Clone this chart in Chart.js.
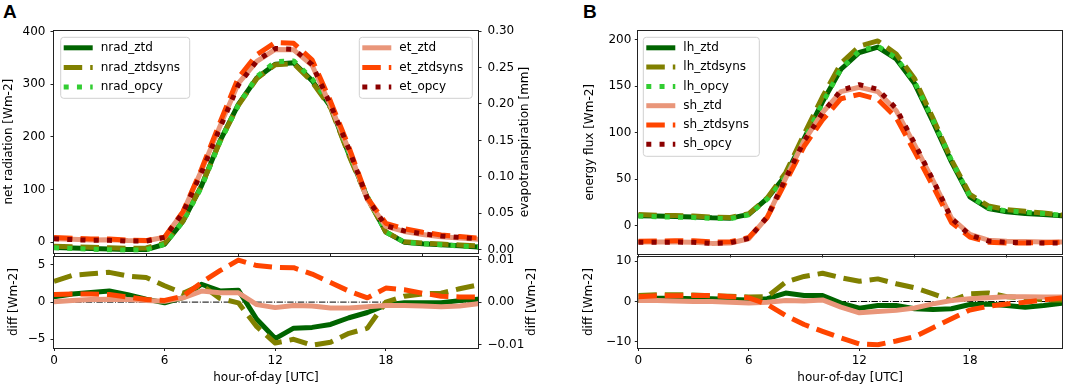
<!DOCTYPE html>
<html><head><meta charset="utf-8">
<script src="https://cdn.jsdelivr.net/npm/chart.js@4.4.1/dist/chart.umd.min.js"></script>
<style>
html,body{margin:0;padding:0;background:#fff;}
body{width:1065px;height:388px;position:relative;overflow:hidden;font-family:'DejaVu Sans',sans-serif;}
canvas{position:absolute;}
.lbl{position:absolute;font:bold 19px 'Liberation Sans',Arial,sans-serif;line-height:19px;color:#000;}
.rt{position:absolute;font:12px 'DejaVu Sans',sans-serif;white-space:nowrap;transform:translate(-50%,-50%) rotate(-90deg);color:#000;}
</style></head><body>
<div class="lbl" style="left:3px;top:2px">A</div>
<div class="lbl" style="left:583px;top:2px">B</div>
<canvas id="aTop" width="540" height="266" style="left:0;top:0;width:540px;height:266px"></canvas>
<canvas id="aBot" width="540" height="148" style="left:0;top:240px;width:540px;height:148px"></canvas>
<canvas id="bTop" width="485" height="266" style="left:580px;top:0;width:485px;height:266px"></canvas>
<canvas id="bBot" width="485" height="148" style="left:580px;top:240px;width:485px;height:148px"></canvas>
<div class="rt" style="left:524px;top:142px">evapotranspiration [mm]</div>
<div class="rt" style="left:531px;top:302px">diff [Wm-2]</div>
<script>
// ---------------- data ----------------
const hours = [0,1,2,3,4,5,6,7,8,9,10,11,12,13,14,15,16,17,18,19,20,21,22,23];
const xTicksTop = [0,5,10,15,20];
const xTicksBottom = [0,6,12,18];
const yTicksNrad = [0,100,200,300,400];
const yTicksEt = [0,0.05,0.10,0.15,0.20,0.25,0.30];
const yTicksDiffNrad = [-5,0,5];
const yTicksDiffEt = [-0.01,0,0.01];
const yTicksFlux = [0,50,100,150,200];
const yTicksDiffFlux = [-10,0,10];
const zeroLine = [0,0];

// Panel A top (net radiation, left axis)
const nrad_ztd     = [-10,-11,-12,-13,-14,-14,-4,40,107,192,262,312,338,341,307,258,167,85,19,0,-3,-5,-7,-9];
const nrad_ztdsyns = [-7.9,-8.5,-9.5,-10.5,-11.5,-11.1,-1.7,40.6,106.9,191.0,260.3,311.0,337.4,339.5,304.6,255.6,164.9,82.9,19.4,0.9,-1.8,-3.7,-5.4,-7.1];
const nrad_opcy    = [-10.7,-12.1,-13.3,-14.5,-15.0,-14.4,-3.9,39.4,104.6,190.5,260.4,314.3,342.9,344.5,310.4,261.0,169.1,86.4,19.4,0.1,-2.9,-4.9,-7.2,-9.4];
// Panel A top (evapotranspiration, right axis)
const et_ztd     = [0.0151,0.0144,0.0136,0.0137,0.0126,0.0124,0.0172,0.0520,0.1086,0.1692,0.2282,0.2584,0.2747,0.2742,0.2531,0.1976,0.1366,0.0689,0.0322,0.0252,0.0211,0.0179,0.0161,0.0146];
const et_ztdsyns = [0.0168,0.0159,0.0149,0.0148,0.0132,0.0126,0.0174,0.0524,0.1106,0.1744,0.2359,0.2676,0.2842,0.2831,0.2606,0.2036,0.1406,0.0710,0.0363,0.0289,0.0241,0.0204,0.0182,0.0162];
const et_opcy    = [0.015,0.014,0.013,0.013,0.012,0.012,0.017,0.051,0.106,0.167,0.226,0.259,0.276,0.275,0.254,0.199,0.138,0.070,0.033,0.026,0.022,0.019,0.017,0.015];
// Panel A bottom (differences)
const diff_nrad_ztd     = [0.7,1.1,1.3,1.5,1.0,0.4,-0.1,0.6,2.4,1.5,1.6,-2.3,-4.9,-3.5,-3.4,-3.0,-2.1,-1.4,-0.4,-0.1,-0.1,-0.1,0.2,0.4];
const diff_nrad_ztdsyns = [2.8,3.6,3.8,4.0,3.5,3.3,2.2,1.2,2.3,0.5,-0.1,-3.3,-5.5,-5.0,-5.8,-5.4,-4.2,-3.5,0.0,0.8,1.1,1.2,1.8,2.3];
const diff_et_ztd       = [0.0001,0.0004,0.0006,0.0007,0.0006,0.0004,0.0002,0.0010,0.0026,0.0022,0.0022,-0.0006,-0.0013,-0.0008,-0.0009,-0.0014,-0.0014,-0.0011,-0.0008,-0.0008,-0.0009,-0.0011,-0.0009,-0.0004];
const diff_et_ztdsyns   = [0.0018,0.0019,0.0019,0.0018,0.0012,0.0006,0.0004,0.0014,0.0046,0.0074,0.0099,0.0086,0.0082,0.0081,0.0066,0.0046,0.0026,0.0010,0.0033,0.0029,0.0021,0.0014,0.0012,0.0012];

// Panel B top (energy fluxes)
const lh_ztd     = [10.7,10.4,10.0,9.5,8.6,8.2,12.2,29.3,54.3,93.6,133,168,186,191.8,179,152.6,111.4,68.6,31,18.6,15,13.2,12.2,10.7];
const lh_ztdsyns = [12.0,11.3,10.9,10.4,9.3,9.0,12.9,29.8,57.0,98.3,138.5,174.3,192.7,198.4,184.4,157.8,115.3,70.7,33.7,21.3,17.2,15.5,13.6,11.5];
const lh_opcy    = [10.5,9.6,9.2,8.8,7.9,7.7,11.8,28.6,52.2,92.1,131.5,168.4,187.7,192.8,180.0,154.4,113.4,70.4,31.8,19.2,16.0,14.6,13.2,11.1];
const sh_ztd     = [-17.55,-17.55,-17.4,-17.7,-18.9,-18.5,-13.9,9.4,51.05,91.1,121.4,144.0,148.7,144.0,123.6,86.7,48.4,8.15,-9.3,-15.5,-16.6,-17.0,-17.5,-17.5];
const sh_ztdsyns = [-16.6,-16.4,-16.1,-16.2,-17.4,-17.1,-12.6,8.9,47.3,85.3,113.6,136.4,141.0,135.8,116.0,79.6,42.5,3.6,-12.1,-17.6,-18.4,-18.4,-18.2,-17.7];
const sh_opcy    = [-17.8,-17.8,-17.5,-17.7,-18.9,-18.3,-13.5,9.6,50.8,91.0,121.0,145.4,151.5,146.5,125.8,88.3,49.0,7.9,-10.0,-16.4,-17.8,-18.2,-18.6,-18.6];
// Panel B bottom (differences)
const diff_lh_ztd     = [0.25,0.8,0.8,0.7,0.7,0.5,0.4,0.7,2.1,1.5,1.5,-0.4,-1.65,-1.0,-1.0,-1.8,-2.0,-1.8,-0.75,-0.6,-1.0,-1.4,-1.0,-0.4];
const diff_lh_ztdsyns = [1.5,1.7,1.7,1.6,1.4,1.3,1.1,1.2,4.8,6.2,7.0,5.9,5.0,5.6,4.4,3.4,1.9,0.25,1.9,2.1,1.2,0.9,0.4,0.4];
const diff_sh_ztd     = [0.25,0.25,0.1,0,0,-0.2,-0.4,-0.2,0.25,0.1,0.4,-1.4,-2.8,-2.5,-2.2,-1.6,-0.6,0.25,0.7,0.9,1.2,1.2,1.1,1.1];
const diff_sh_ztdsyns = [1.2,1.4,1.4,1.5,1.5,1.2,0.9,-0.7,-3.5,-5.7,-7.4,-9.0,-10.5,-10.7,-9.8,-8.7,-6.5,-4.3,-2.1,-1.2,-0.6,-0.2,0.4,0.9];

// ---------------- styling helpers ----------------
const FONT = {family: "'DejaVu Sans', sans-serif", size: 12};
const C = {dg:'#006400', ol:'#808000', lg:'#32cd32', sa:'#e9967a', or:'#ff4500', dr:'#8b0000'};
const DASH = {solid: [], dashed: [18.5, 8], dotted: [5, 8.25], dashdot: [6.4, 1.6, 1, 1.6]};

function lineDs(label, arr, color, style, width, axis, order, xs) {
  const xv = xs || hours;
  return {
    label: label,
    data: arr.map((v, i) => ({x: xv[i], y: v})),
    borderColor: color, backgroundColor: color, borderWidth: width,
    borderDash: DASH[style], borderCapStyle: style === 'solid' ? 'round' : 'butt',
    borderJoinStyle: 'round', pointRadius: 0, pointHoverRadius: 0, tension: 0,
    fill: false, yAxisID: axis, order: order, clip: 0
  };
}
const zeroDs = (axis) => lineDs('zero', zeroLine, '#000', 'dashdot', 1, axis, 100, [hours[0], hours[hours.length - 1]]);

const minus = s => s.replace('-', '\u2212');
const fmtInt = v => minus(String(Math.round(v)));
const fmt2 = v => minus((Math.abs(v) < 1e-12 ? 0 : v).toFixed(2));

function gridOpts() {
  return {drawOnChartArea: false, drawTicks: true, tickLength: 3.5, color: '#222', tickColor: '#222', lineWidth: 1};
}
function yAxis(pos, min, max, ticksArr, fmt, width, pad, title, titlePad) {
  return {
    type: 'linear', position: pos, min: min, max: max,
    afterBuildTicks: s => { s.ticks = ticksArr.map(v => ({value: v})); },
    ticks: {callback: v => fmt(v), font: FONT, color: '#000', padding: pad, autoSkip: false},
    grid: gridOpts(), border: {display: false},
    title: title ? {display: true, text: title, font: FONT, color: '#000', padding: {top: titlePad, bottom: 0}} : {display: false},
    afterFit: s => { s.width = width; }
  };
}
function xAxis(ticksArr, labels, height) {
  return {
    type: 'linear', position: 'bottom', min: 0, max: 23,
    afterBuildTicks: s => { s.ticks = ticksArr.map(v => ({value: v})); },
    ticks: {display: labels, callback: v => fmtInt(v), font: FONT, color: '#000', padding: 2.5, autoSkip: false, maxRotation: 0},
    grid: gridOpts(), border: {display: false},
    title: labels ? {display: true, text: 'hour-of-day [UTC]', font: FONT, color: '#000', padding: {top: 0, bottom: 2.8}} : {display: false},
    afterFit: s => { s.height = height; }
  };
}

// spines (axes frame)
const spines = {
  id: 'spines',
  afterDatasetsDraw(chart) {
    const ca = chart.chartArea, ctx = chart.ctx;
    ctx.save();
    ctx.strokeStyle = '#222'; ctx.lineWidth = 1; ctx.setLineDash([]);
    ctx.strokeRect(Math.round(ca.left) - 0.5, Math.round(ca.top) - 0.5,
                   Math.round(ca.right) - Math.round(ca.left) + 1, Math.round(ca.bottom) - Math.round(ca.top) + 1);
    ctx.restore();
  }
};
// matplotlib-like legend inside the axes
const mplLegend = {
  id: 'mplLegend',
  afterDraw(chart, args, opts) {
    if (!opts || !opts.items) return;
    const ctx = chart.ctx, ca = chart.chartArea;
    const x0 = opts.fromRight != null ? ca.right - opts.fromRight - opts.w : ca.left + opts.fromLeft;
    const y0 = ca.top + opts.top;
    const w = opts.w, h = opts.h, r = 3;
    ctx.save();
    ctx.beginPath();
    ctx.moveTo(x0 + r, y0); ctx.lineTo(x0 + w - r, y0); ctx.arcTo(x0 + w, y0, x0 + w, y0 + r, r);
    ctx.lineTo(x0 + w, y0 + h - r); ctx.arcTo(x0 + w, y0 + h, x0 + w - r, y0 + h, r);
    ctx.lineTo(x0 + r, y0 + h); ctx.arcTo(x0, y0 + h, x0, y0 + h - r, r);
    ctx.lineTo(x0, y0 + r); ctx.arcTo(x0, y0, x0 + r, y0, r); ctx.closePath();
    ctx.fillStyle = 'rgba(255,255,255,0.85)'; ctx.fill();
    ctx.strokeStyle = '#d0d0d0'; ctx.lineWidth = 1; ctx.stroke();
    opts.items.forEach((idx, k) => {
      const d = chart.data.datasets[idx];
      const yy = y0 + opts.row0 + k * opts.rowH;
      ctx.beginPath();
      ctx.setLineDash(d.borderDash || []);
      ctx.lineCap = 'butt';
      ctx.strokeStyle = d.borderColor; ctx.lineWidth = d.borderWidth;
      ctx.moveTo(x0 + 3, yy); ctx.lineTo(x0 + 32, yy); ctx.stroke();
      ctx.setLineDash([]);
      ctx.fillStyle = '#000'; ctx.font = "12px 'DejaVu Sans', sans-serif";
      ctx.textBaseline = 'middle'; ctx.textAlign = 'left';
      ctx.fillText(d.label, x0 + 40, yy);
    });
    ctx.restore();
  }
};

function baseOptions(padding, scales, legendOpts) {
  return {
    responsive: false, animation: false, devicePixelRatio: 1, events: [],
    layout: {padding: padding},
    scales: scales,
    plugins: {legend: {display: false}, tooltip: {enabled: false}, mplLegend: legendOpts || {}}
  };
}

// ---------------- Panel A top ----------------
new Chart(document.getElementById('aTop'), {
  type: 'line',
  data: {datasets: [
    lineDs('nrad_ztd', nrad_ztd, C.dg, 'solid', 5, 'y', 6),
    lineDs('nrad_ztdsyns', nrad_ztdsyns, C.ol, 'dashed', 5, 'y', 5),
    lineDs('nrad_opcy', nrad_opcy, C.lg, 'dotted', 5, 'y', 4),
    lineDs('et_ztd', et_ztd, C.sa, 'solid', 5, 'y2', 3),
    lineDs('et_ztdsyns', et_ztdsyns, C.or, 'dashed', 5, 'y2', 2),
    lineDs('et_opcy', et_opcy, C.dr, 'dotted', 5, 'y2', 1)
  ]},
  options: baseOptions({left: 0, right: 0, top: 30.5, bottom: 8}, {
    x: xAxis(xTicksTop, false, 4),
    y: yAxis('left', -20.2, 402.3, yTicksNrad, fmtInt, 54, 5, 'net radiation [Wm-2]', 1.8),
    y2: yAxis('right', -0.0041, 0.3007, yTicksEt, fmt2, 62, 6, null, 0)
  }, [
    {items: [0,1,2], fromLeft: 6.7, top: 6.8, w: 129, h: 61, row0: 10.5, rowH: 19.6}
  ][0]),
  plugins: [spines, mplLegend, {
    id: 'legend2',
    afterDraw(chart) {
      mplLegend.afterDraw(chart, null, {items: [3,4,5], fromRight: 5.7, top: 6.8, w: 113, h: 61, row0: 10.5, rowH: 19.6});
    }
  }]
});

// ---------------- Panel A bottom ----------------
new Chart(document.getElementById('aBot'), {
  type: 'line',
  data: {datasets: [
    zeroDs('y'),
    lineDs('nrad_ztd', diff_nrad_ztd, C.dg, 'solid', 5, 'y', 6),
    lineDs('nrad_ztdsyns', diff_nrad_ztdsyns, C.ol, 'dashed', 5, 'y', 5),
    lineDs('et_ztd', diff_et_ztd, C.sa, 'solid', 5, 'y2', 3),
    lineDs('et_ztdsyns', diff_et_ztdsyns, C.or, 'dashed', 5, 'y2', 2)
  ]},
  options: baseOptions({left: 0, right: 0, top: 16.7, bottom: 0}, {
    x: xAxis(xTicksBottom, true, 40.5),
    y: yAxis('left', -6.1, 6.1, yTicksDiffNrad, fmtInt, 54, 5, 'diff [Wm-2]', 6.3),
    y2: yAxis('right', -0.0107, 0.0107, yTicksDiffEt, fmt2, 62, 6, null, 0)
  }),
  plugins: [spines]
});

// ---------------- Panel B top ----------------
new Chart(document.getElementById('bTop'), {
  type: 'line',
  data: {datasets: [
    lineDs('lh_ztd', lh_ztd, C.dg, 'solid', 5, 'y', 6),
    lineDs('lh_ztdsyns', lh_ztdsyns, C.ol, 'dashed', 5, 'y', 5),
    lineDs('lh_opcy', lh_opcy, C.lg, 'dotted', 5, 'y', 4),
    lineDs('sh_ztd', sh_ztd, C.sa, 'solid', 5, 'y', 3),
    lineDs('sh_ztdsyns', sh_ztdsyns, C.or, 'dashed', 5, 'y', 2),
    lineDs('sh_opcy', sh_opcy, C.dr, 'dotted', 5, 'y', 1)
  ]},
  options: baseOptions({left: 0, right: 3, top: 30.5, bottom: 8}, {
    x: xAxis(xTicksTop, false, 4),
    y: yAxis('left', -30.3, 209.6, yTicksFlux, fmtInt, 58.3, 3.5, 'energy flux [Wm-2]', 2.3)
  }, {items: [0,1,2,3,4,5], fromLeft: 5, top: 6.8, w: 116, h: 119, row0: 10.5, rowH: 19.3}),
  plugins: [spines, mplLegend]
});

// ---------------- Panel B bottom ----------------
new Chart(document.getElementById('bBot'), {
  type: 'line',
  data: {datasets: [
    zeroDs('y'),
    lineDs('lh_ztd', diff_lh_ztd, C.dg, 'solid', 5, 'y', 6),
    lineDs('lh_ztdsyns', diff_lh_ztdsyns, C.ol, 'dashed', 5, 'y', 5),
    lineDs('sh_ztd', diff_sh_ztd, C.sa, 'solid', 5, 'y', 3),
    lineDs('sh_ztdsyns', diff_sh_ztdsyns, C.or, 'dashed', 5, 'y', 2)
  ]},
  options: baseOptions({left: 0, right: 3, top: 16.7, bottom: 0}, {
    x: xAxis(xTicksBottom, true, 40.5),
    y: yAxis('left', -11.4, 11.1, yTicksDiffFlux, fmtInt, 58.3, 3.5, 'diff [Wm-2]', 1.5)
  }),
  plugins: [spines]
});
</script>
</body></html>
